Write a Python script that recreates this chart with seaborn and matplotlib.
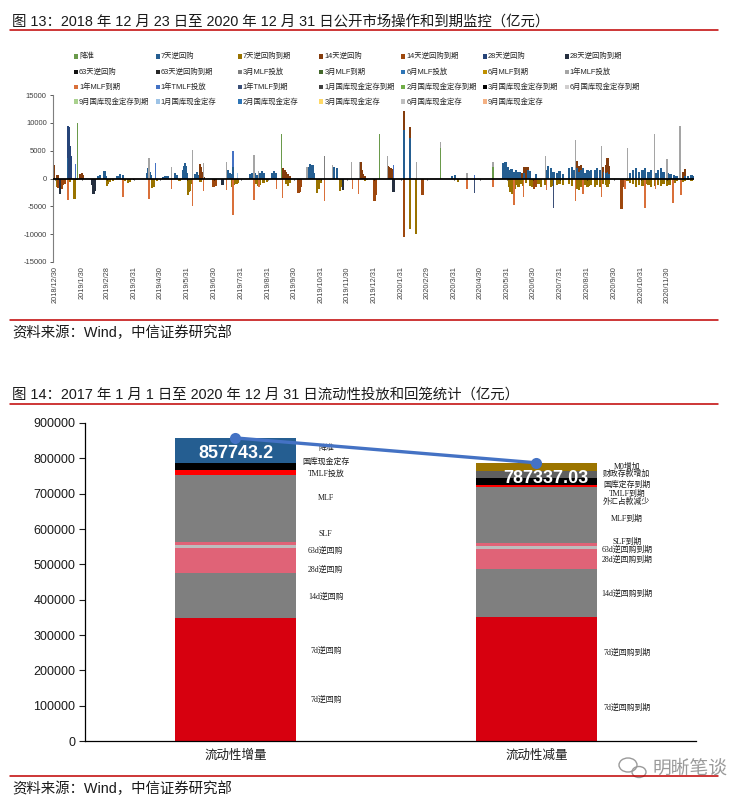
import numpy as np
import pandas as pd
import matplotlib
matplotlib.use("Agg")
import matplotlib.pyplot as plt
from matplotlib.lines import Line2D
from matplotlib.patches import Rectangle, Ellipse
import seaborn as sns

W, H = 738, 802

# ---------------- 图13: daily OMO injections (+) and maturities (-), 亿元 ----------------
rrr = [("2019-01-25", 10000), ("2019-09-16", 8000), ("2020-01-06", 8000),
       ("2020-03-16", 5500), ("2020-05-15", 2000)]

rr7 = [("2019-01-14", 3600), ("2019-01-15", 3500), ("2019-02-18", 400), ("2019-02-20", 600),
       ("2019-02-25", 1300), ("2019-02-27", 500), ("2019-03-12", 500), ("2019-03-15", 800),
       ("2019-03-18", 600), ("2019-04-15", 1000), ("2019-04-16", 1800), ("2019-04-18", 1200),
       ("2019-04-19", 600), ("2019-05-03", 300), ("2019-05-05", 500), ("2019-05-08", 400),
       ("2019-05-17", 900), ("2019-05-19", 700), ("2019-05-26", 1500), ("2019-05-27", 2200),
       ("2019-05-28", 2800), ("2019-05-29", 2200), ("2019-05-30", 1000), ("2019-06-09", 800),
       ("2019-06-11", 1100), ("2019-06-13", 600), ("2019-07-16", 1500), ("2019-07-19", 1000),
       ("2019-07-20", 800), ("2019-07-22", 2000), ("2019-08-11", 800), ("2019-08-13", 1000),
       ("2019-08-16", 1000), ("2019-08-18", 600), ("2019-08-22", 1000), ("2019-08-24", 1300),
       ("2019-08-26", 900), ("2019-09-05", 1000), ("2019-09-07", 1300), ("2019-09-09", 900),
       ("2019-10-16", 2000), ("2019-10-18", 2600), ("2019-10-21", 2400), ("2019-10-23", 1000),
       ("2019-11-14", 1500), ("2019-11-15", 2000), ("2019-11-18", 1800), ("2020-02-03", 8800),
       ("2020-02-10", 7200), ("2020-03-29", 500), ("2020-04-01", 700), ("2020-05-27", 2800),
       ("2020-05-29", 3000), ("2020-06-01", 2000), ("2020-06-03", 1500), ("2020-06-05", 1700),
       ("2020-06-08", 1200), ("2020-06-10", 1500), ("2020-06-12", 1100), ("2020-06-15", 1200),
       ("2020-06-19", 1000), ("2020-06-24", 1500), ("2020-06-26", 1400), ("2020-07-03", 800),
       ("2020-07-15", 1500), ("2020-07-17", 2200), ("2020-07-20", 1800), ("2020-07-23", 1200),
       ("2020-07-27", 1000), ("2020-07-30", 1300), ("2020-08-03", 800), ("2020-08-10", 1800),
       ("2020-08-13", 2000), ("2020-08-16", 1500), ("2020-08-19", 1800), ("2020-08-21", 1200),
       ("2020-08-24", 1500), ("2020-08-26", 1800), ("2020-08-28", 1000), ("2020-08-31", 1500),
       ("2020-09-02", 1300), ("2020-09-04", 1600), ("2020-09-09", 1500), ("2020-09-11", 1800),
       ("2020-09-14", 1500), ("2020-09-18", 1200), ("2020-09-21", 1000), ("2020-09-23", 1200),
       ("2020-09-25", 800), ("2020-10-19", 1000), ("2020-10-22", 1500), ("2020-10-26", 1800),
       ("2020-10-29", 1200), ("2020-11-02", 1500), ("2020-11-05", 1800), ("2020-11-09", 1200),
       ("2020-11-12", 1500), ("2020-11-17", 1000), ("2020-11-20", 1500), ("2020-11-23", 1800),
       ("2020-11-26", 1200), ("2020-12-01", 1000), ("2020-12-04", 800), ("2020-12-08", 600),
       ("2020-12-11", 500), ("2020-12-21", 400), ("2020-12-24", 500), ("2020-12-28", 600),
       ("2020-12-30", 400)]

rr7_mat = [("2019-01-02", -1500), ("2019-01-04", -1200), ("2019-01-10", -800), ("2019-01-16", -700),
           ("2019-01-21", -3600), ("2019-01-22", -3600), ("2019-01-24", -300), ("2019-02-28", -1300),
           ("2019-03-01", -1000), ("2019-03-03", -600), ("2019-03-07", -400), ("2019-03-20", -500),
           ("2019-03-24", -800), ("2019-03-26", -600), ("2019-04-20", -1700), ("2019-04-22", -1500),
           ("2019-04-23", -1200), ("2019-04-26", -500), ("2019-05-22", -500), ("2019-06-01", -2900),
           ("2019-06-02", -2500), ("2019-06-03", -2200), ("2019-06-05", -1000), ("2019-06-15", -700),
           ("2019-07-21", -1500), ("2019-07-23", -1200), ("2019-07-26", -1000), ("2019-07-28", -800),
           ("2019-08-18", -1000), ("2019-08-20", -1300), ("2019-08-22", -1200), ("2019-08-26", -800),
           ("2019-08-30", -600), ("2019-09-21", -1000), ("2019-09-23", -1300), ("2019-09-25", -800),
           ("2019-10-26", -2600), ("2019-10-29", -1800), ("2019-10-31", -800), ("2019-11-22", -2300),
           ("2019-11-24", -1500), ("2019-12-20", -500), ("2019-12-22", -300), ("2020-02-10", -9000),
           ("2020-02-17", -10000), ("2020-04-05", -700), ("2020-06-02", -1500), ("2020-06-04", -2500),
           ("2020-06-06", -2700), ("2020-06-09", -1800), ("2020-06-11", -1200), ("2020-06-13", -1500),
           ("2020-06-16", -1000), ("2020-06-18", -1300), ("2020-06-22", -800), ("2020-06-26", -1300),
           ("2020-06-29", -1500), ("2020-07-06", -1000), ("2020-07-09", -1500), ("2020-07-13", -1200),
           ("2020-07-20", -1600), ("2020-07-22", -1400), ("2020-07-27", -1200), ("2020-07-30", -1000),
           ("2020-08-03", -1200), ("2020-08-10", -1000), ("2020-08-13", -1400), ("2020-08-19", -1800),
           ("2020-08-21", -2000), ("2020-08-24", -1500), ("2020-08-28", -1200), ("2020-08-31", -1500),
           ("2020-09-02", -1300), ("2020-09-04", -1200), ("2020-09-09", -1500), ("2020-09-11", -1200),
           ("2020-09-14", -1500), ("2020-09-18", -1000), ("2020-09-21", -1200), ("2020-09-23", -1500),
           ("2020-09-25", -1000), ("2020-10-16", -500), ("2020-10-19", -800), ("2020-10-22", -1000),
           ("2020-10-26", -1500), ("2020-10-29", -1200), ("2020-11-02", -1400), ("2020-11-06", -1000),
           ("2020-11-09", -1200), ("2020-11-12", -1500), ("2020-11-16", -1300), ("2020-11-20", -1200),
           ("2020-11-23", -1400), ("2020-11-26", -1000), ("2020-11-30", -1300), ("2020-12-03", -1200),
           ("2020-12-09", -800), ("2020-12-11", -500), ("2020-12-18", -600), ("2020-12-21", -400),
           ("2020-12-24", -300), ("2020-12-28", -500)]

rr14 = [("2018-12-29", 2400), ("2019-01-02", 700), ("2019-01-28", 800), ("2019-01-30", 900),
        ("2019-01-31", 600), ("2019-06-14", 2600), ("2019-06-15", 2000), ("2019-06-17", 1200),
        ("2019-06-19", 300), ("2019-09-17", 1800), ("2019-09-19", 1600), ("2019-09-21", 1200),
        ("2019-09-23", 800), ("2019-09-25", 400), ("2019-12-15", 3000), ("2019-12-16", 2400),
        ("2019-12-17", 1500), ("2019-12-18", 800), ("2019-12-20", 500), ("2020-01-16", 2300),
        ("2020-01-17", 2000), ("2020-01-19", 1900), ("2020-01-20", 1700), ("2020-01-21", 1200),
        ("2020-02-03", 3300), ("2020-02-10", 2000), ("2020-06-17", 1000), ("2020-06-19", 1000),
        ("2020-06-22", 2100), ("2020-06-24", 600), ("2020-08-19", 1400), ("2020-08-21", 1000),
        ("2020-08-24", 1000), ("2020-09-17", 1500), ("2020-09-18", 800), ("2020-09-21", 1500),
        ("2020-09-23", 2500), ("2020-09-25", 1500), ("2020-12-18", 1200), ("2020-12-21", 1300)]

rr14_mat = [("2019-01-03", -1700), ("2019-01-06", -1700), ("2019-01-07", -1800), ("2019-01-08", -1200),
            ("2019-01-11", -1000), ("2019-06-29", -1600), ("2019-06-30", -1500), ("2019-07-02", -1400),
            ("2019-07-03", -800), ("2019-10-05", -2600), ("2019-10-06", -2600), ("2019-10-07", -2400),
            ("2019-10-08", -1500), ("2019-12-31", -4000), ("2020-01-02", -3000), ("2020-02-03", -10500),
            ("2020-02-24", -3000), ("2020-07-01", -1800), ("2020-07-03", -1500), ("2020-10-09", -5500),
            ("2020-10-12", -1500)]

rr28 = [("2019-01-14", 5800), ("2019-01-15", 5800), ("2019-01-16", 5800), ("2019-01-18", 4000)]
rr28_mat = [("2019-01-05", -2700), ("2019-02-11", -1200), ("2019-02-12", -2700), ("2019-02-13", -2800),
            ("2019-02-14", -2300), ("2019-07-10", -1200), ("2019-07-11", -1000), ("2019-11-25", -2000),
            ("2020-01-22", -2500)]
rr63_mat = [("2019-03-30", -300)]

mlf3m = [("2019-11-04", 4000)]
mlf1y = [("2019-04-17", 3600), ("2019-05-13", 2000), ("2019-06-06", 5100), ("2019-06-18", 2700),
         ("2019-07-15", 3000), ("2019-08-15", 4300), ("2019-08-20", 1400), ("2019-10-15", 2000),
         ("2019-11-13", 2400), ("2019-12-05", 3000), ("2019-12-14", 3000), ("2020-01-15", 4000),
         ("2020-02-17", 3000), ("2020-03-16", 1000), ("2020-04-15", 1000), ("2020-05-15", 1000),
         ("2020-07-14", 4000), ("2020-08-17", 7000), ("2020-09-16", 5800), ("2020-10-16", 5500),
         ("2020-11-16", 8000), ("2020-11-30", 3500), ("2020-12-15", 9500)]
mlf1y_mat = [("2019-01-14", -3800), ("2019-03-18", -3300), ("2019-04-17", -3700), ("2019-05-13", -1800),
             ("2019-06-06", -4900), ("2019-06-18", -2200), ("2019-07-15", -2000), ("2019-07-22", -6600),
             ("2019-08-15", -3800), ("2019-08-21", -1600), ("2019-09-10", -1800), ("2019-09-17", -3500),
             ("2019-11-04", -4000), ("2019-12-06", -1800), ("2019-12-13", -2700), ("2020-04-15", -1800),
             ("2020-05-15", -1500), ("2020-06-08", -4800), ("2020-06-19", -3300), ("2020-07-15", -2000),
             ("2020-08-17", -4000), ("2020-08-26", -2800), ("2020-09-16", -3300), ("2020-10-13", -1800),
             ("2020-11-05", -5300), ("2020-11-17", -1800), ("2020-12-07", -4400), ("2020-12-16", -3000)]
tmlf = [("2019-01-23", 2600), ("2019-04-24", 2700), ("2019-07-22", 3000), ("2020-01-22", 2400),
        ("2020-04-24", 600)]
tmlf_mat = [("2020-04-24", -2600), ("2020-07-23", -5300)]
deposit_1m = [("2019-07-27", 900)]

top_ticks = ["2018-12-30", "2019-01-30", "2019-02-28", "2019-03-31", "2019-04-30", "2019-05-31",
             "2019-06-30", "2019-07-31", "2019-08-31", "2019-09-30", "2019-10-31", "2019-11-30",
             "2019-12-31", "2020-01-31", "2020-02-29", "2020-03-31", "2020-04-30", "2020-05-31",
             "2020-06-30", "2020-07-31", "2020-08-31", "2020-09-30", "2020-10-31", "2020-11-30"]

# legend order = stacking order (name, colour, data, dense)
top_series = [
    ("降准", "#6A9A4B", rrr, False),
    ("7天逆回购", "#255E91", rr7, True),
    ("7天逆回购到期", "#997300", rr7_mat, True),
    ("14天逆回购", "#843C0C", rr14, True),
    ("14天逆回购到期", "#9E480E", rr14_mat, True),
    ("28天逆回购", "#264478", rr28, True),
    ("28天逆回购到期", "#252F3F", rr28_mat, True),
    ("63天逆回购", "#111111", [], False),
    ("63天逆回购到期", "#262626", rr63_mat, False),
    ("3月MLF投放", "#7F7F7F", mlf3m, False),
    ("3月MLF到期", "#43682B", [], False),
    ("6月MLF投放", "#2E75B6", [], False),
    ("6月MLF到期", "#BF9000", [], False),
    ("1年MLF投放", "#A5A5A5", mlf1y, False),
    ("1年MLF到期", "#D9703A", mlf1y_mat, False),
    ("1年TMLF投放", "#4472C4", tmlf, False),
    ("1年TMLF到期", "#3B4F78", tmlf_mat, False),
    ("1月国库现金定存到期", "#404040", [], False),
    ("2月国库现金定存到期", "#70AD47", [], False),
    ("3月国库现金定存到期", "#000000", [], False),
    ("6月国库现金定存到期", "#D0CECE", [], False),
    ("9月国库现金定存到期", "#A9D18E", [], False),
    ("1月国库现金定存", "#9DC3E6", deposit_1m, False),
    ("2月国库现金定存", "#2E75B6", [], False),
    ("3月国库现金定存", "#FFD966", [], False),
    ("6月国库现金定存", "#BFBFBF", [], False),
    ("9月国库现金定存", "#F4B183", [], False),
]

# ---------------- 图14: liquidity injection vs withdrawal, 亿元 ----------------
categories = ["流动性增量", "流动性减量"]
inc_total = 857743.2
dec_total = 787337.03

# bottom -> top
inc_segments = [("7d逆回购", 174000), ("7d逆回购", 174000), ("14d逆回购", 127000),
                ("28d逆回购", 71000), ("63d逆回购", 8000), ("SLF", 9000), ("MLF", 190000),
                ("TMLF投放", 14000), ("国库现金定存", 20000), ("降准", 70743.2)]
dec_segments = [("7d逆回购到期", 175000), ("7d逆回购到期", 175000), ("14d逆回购到期", 136000),
                ("28d逆回购到期", 57000), ("63d逆回购到期", 9000), ("SLF到期", 8000),
                ("MLF到期", 157000), ("外汇占款减少", 1000), ("TMLF到期", 7000),
                ("国库定存到期", 19000), ("财政存款增加", 21000), ("M0增加", 22337.03)]

inc_labels = ["降准", "国库现金定存", "TMLF投放", "MLF", "SLF", "63d逆回购", "28d逆回购",
              "14d逆回购", "7d逆回购", "7d逆回购"]
inc_label_y = [829000, 790500, 756000, 687000, 585000, 538000, 486000, 408000, 255000, 116000]
dec_labels = ["M0增加", "财政存款增加", "国库定存到期", "TMLF到期", "外汇占款减少", "MLF到期",
              "SLF到期", "63d逆回购到期", "28d逆回购到期", "14d逆回购到期", "7d逆回购到期", "7d逆回购到期"]
dec_label_y = [776000, 756000, 726000, 699000, 677000, 629000, 564000, 540000, 512000, 418000,
               249000, 93000]

seg_colors = {
    "7d逆回购": "#D7000F", "14d逆回购": "#7F7F7F", "28d逆回购": "#E06377", "63d逆回购": "#BDBDBD",
    "SLF": "#E06377", "MLF": "#7F7F7F", "TMLF投放": "#FF0000", "国库现金定存": "#000000",
    "降准": "#255E91",
    "7d逆回购到期": "#D7000F", "14d逆回购到期": "#7F7F7F", "28d逆回购到期": "#E06377",
    "63d逆回购到期": "#BDBDBD", "SLF到期": "#E06377", "MLF到期": "#7F7F7F", "外汇占款减少": "#7F7F7F",
    "TMLF到期": "#FF0000", "国库定存到期": "#000000", "财政存款增加": "#5F5F5F", "M0增加": "#9C7500",
}


def fx(px):
    return px / W


def fy(py):
    return 1 - py / H


def draw_stacked(ax, series):
    """Excel-style stacked columns: positives stack up, negatives stack down."""
    pos, neg = {}, {}
    for name, color, data, dense in series:
        if not data:
            continue
        d = pd.to_datetime([p[0] for p in data])
        v = np.array([p[1] for p in data], dtype=float)
        base = np.array([(pos if y >= 0 else neg).get(x, 0.0) for x, y in zip(d, v)])
        ax.bar(d, v, bottom=base, width=2.6 if dense else 1.5, color=color,
               linewidth=0, zorder=2)
        for x, y, b in zip(d, v, base):
            (pos if y >= 0 else neg)[x] = b + y


sns.set_style("white")
plt.rcParams["font.family"] = ["Liberation Sans", "Noto Sans CJK SC"]
plt.rcParams["axes.unicode_minus"] = False

fig = plt.figure(figsize=(W / 100, H / 100), dpi=100)
red = "#C00000"

# --- headers / footers ---
fig.text(fx(12), fy(22), "图 13：2018 年 12 月 23 日至 2020 年 12 月 31 日公开市场操作和到期监控（亿元）",
         fontsize=10.4, va="center", color="#1a1a1a")
fig.add_artist(Line2D([fx(10), fx(718)], [fy(30), fy(30)], color=red, lw=1.1))
fig.add_artist(Line2D([fx(10), fx(718)], [fy(320), fy(320)], color=red, lw=1.1))
fig.text(fx(12), fy(333), "资料来源：Wind，中信证券研究部", fontsize=10.4, va="center", color="#1a1a1a")

fig.text(fx(12), fy(395), "图 14：2017 年 1 月 1 日至 2020 年 12 月 31 日流动性投放和回笼统计（亿元）",
         fontsize=10.4, va="center", color="#1a1a1a")
fig.add_artist(Line2D([fx(10), fx(718)], [fy(404), fy(404)], color=red, lw=1.1))
fig.add_artist(Line2D([fx(10), fx(718)], [fy(776), fy(776)], color=red, lw=1.1))
fig.text(fx(12), fy(789), "资料来源：Wind，中信证券研究部", fontsize=10.4, va="center", color="#1a1a1a")

# --- top chart ---
ax1 = fig.add_axes([fx(53), fy(262), fx(694) - fx(53), fy(95) - fy(262)])
ax1.set_facecolor("none")
draw_stacked(ax1, top_series)
ax1.axhline(0, color="black", lw=1.3, zorder=5)
tick_dates = pd.to_datetime(top_ticks)
ax1.vlines(tick_dates, -320, 0, color="black", lw=0.6, zorder=5)
ax1.set_xlim(pd.Timestamp("2018-12-28"), pd.Timestamp("2020-12-31"))
ax1.set_ylim(-15000, 15000)
ax1.set_yticks(range(-15000, 15001, 5000))
ax1.set_xticks(tick_dates)
ax1.set_xticklabels([f"{t.year}/{t.month}/{t.day}" for t in tick_dates], rotation=90)
ax1.tick_params(axis="x", length=0, pad=3, labelsize=5.3, colors="#404040")
ax1.tick_params(axis="y", left=True, length=2.5, width=0.6, pad=2, labelsize=5.5,
                colors="#404040")
for s in ["top", "right", "bottom"]:
    ax1.spines[s].set_visible(False)
ax1.spines["left"].set_color("#7F7F7F")
ax1.spines["left"].set_linewidth(0.8)

# manual legend grid, 7 columns x 4 rows
leg_x0, leg_dx = 74, 81.8
leg_rows = [56.5, 72, 87, 101.5]
for i, (name, color, _, _) in enumerate(top_series):
    r, c = divmod(i, 7)
    px, py = leg_x0 + c * leg_dx, leg_rows[r]
    fig.add_artist(Rectangle((fx(px), fy(py + 2)), 4 / W, 4 / H, transform=fig.transFigure,
                             color=color, lw=0))
    fig.text(fx(px + 5), fy(py), name, fontsize=5.3, va="center", ha="left", color="#262626")

# --- bottom chart ---
ax2 = fig.add_axes([fx(85), fy(741), fx(696) - fx(85), fy(423) - fy(741)])
ax2.set_facecolor("none")
bar_w = 0.4
for xi, segs in enumerate([inc_segments, dec_segments]):
    bottom = 0.0
    for name, val in segs:
        ax2.bar(xi, val, bottom=bottom, width=bar_w, color=seg_colors[name], linewidth=0, zorder=2)
        bottom += val

sns.lineplot(x=[0, 1], y=[inc_total, dec_total], ax=ax2, color="#4472C4", lw=2.4,
             marker="o", markersize=8, markeredgewidth=0, zorder=4)

ax2.text(0, 815000, f"{inc_total:.1f}", ha="center", va="center", color="white",
         fontsize=13, fontweight="bold", zorder=5)
ax2.text(1.03, 744000, f"{dec_total:.2f}", ha="center", va="center", color="white",
         fontsize=13, fontweight="bold", zorder=5)

for xi, labs, ys in [(0, inc_labels, inc_label_y), (1, dec_labels, dec_label_y)]:
    for lab, y in zip(labs, ys):
        ax2.text(xi + 0.30, y, lab, ha="center", va="center", fontsize=5.7,
                 color="#1a1a1a", family=["Liberation Serif", "Noto Sans CJK SC"])

ax2.set_xlim(-0.5, 1.53)
ax2.set_ylim(0, 900000)
ax2.set_yticks(range(0, 900001, 100000))
ax2.set_xticks([0, 1])
ax2.set_xticklabels(categories)
ax2.tick_params(axis="x", length=0, pad=6, labelsize=9, colors="#1a1a1a")
ax2.tick_params(axis="y", left=True, length=4, width=0.8, pad=3, labelsize=9, colors="#1a1a1a")
for s in ["top", "right"]:
    ax2.spines[s].set_visible(False)
for s in ["left", "bottom"]:
    ax2.spines[s].set_color("black")
    ax2.spines[s].set_linewidth(0.9)
ax2.set_xlabel("")
ax2.set_ylabel("")

# watermark
fig.add_artist(Ellipse((fx(628), fy(765)), 18 / W, 14 / H, transform=fig.transFigure,
                       fill=False, ec="#9A9A9A", lw=1.0))
fig.add_artist(Ellipse((fx(639), fy(772)), 14 / W, 11 / H, transform=fig.transFigure,
                       fill=False, ec="#9A9A9A", lw=1.0))
fig.text(fx(690), fy(769), "明晰笔谈", fontsize=13.5, ha="center", va="center", color="#9A9A9A")

fig.savefig("out.png", dpi=100, facecolor="white")
